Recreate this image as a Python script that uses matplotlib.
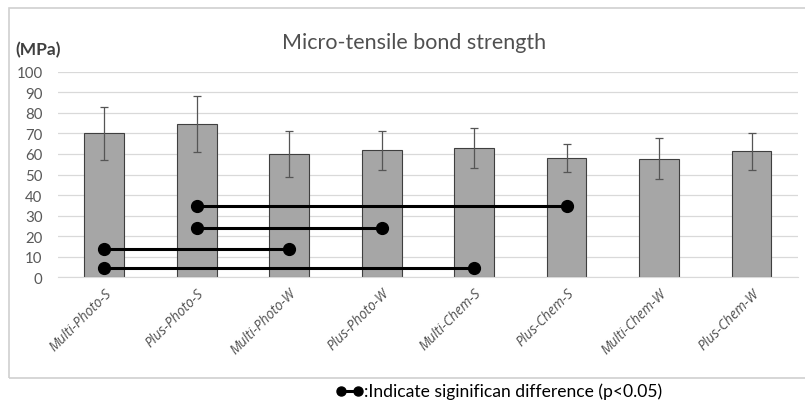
import matplotlib.pyplot as plt
from matplotlib.patches import Rectangle
from matplotlib.lines import Line2D

plt.rcParams['font.family'] = ['Lato', 'DejaVu Sans']

groups = ["Multi-Photo-S", "Plus-Photo-S", "Multi-Photo-W", "Plus-Photo-W",
          "Multi-Chem-S", "Plus-Chem-S", "Multi-Chem-W", "Plus-Chem-W"]
means = [70.0, 74.6, 60.0, 61.8, 62.9, 58.2, 57.7, 61.3]
sds = [13.0, 13.7, 11.0, 9.4, 9.6, 6.8, 10.0, 9.0]

# significant pairs (index a, index b, height of the connector)
sig_from = [1, 1, 0, 0]
sig_to = [5, 3, 2, 4]
sig_level = [34.5, 24.2, 13.9, 4.4]

fig = plt.figure(figsize=(8.05, 4.06), dpi=100)
ax = fig.add_axes([0.072, 0.3145, 0.919, 0.5064])

x = list(range(len(groups)))
ax.bar(x, means, width=0.43, color='#a6a6a6', edgecolor='#3f3f3f', linewidth=0.8, zorder=2)
ax.errorbar(x, means, yerr=sds, fmt='none', ecolor='#555555', elinewidth=0.9,
            capsize=3, capthick=0.9, zorder=3)

for a, b, lv in zip(sig_from, sig_to, sig_level):
    ax.plot([a, b], [lv, lv], color='black', linewidth=2.2, marker='o',
            markersize=8.5, zorder=4)

ax.set_xlim(-0.5, len(groups) - 0.5)
ax.set_ylim(0, 100)
ax.set_yticks(range(0, 101, 10))
ax.yaxis.grid(True, color='#d9d9d9', linewidth=0.9, zorder=0)
ax.set_axisbelow(True)
for s in ['top', 'right', 'left']:
    ax.spines[s].set_visible(False)
ax.spines['bottom'].set_color('#d9d9d9')
ax.tick_params(axis='both', length=0, colors='#595959', labelsize=10.8)
ax.tick_params(axis='y', pad=11)
ax.tick_params(axis='x', pad=6)
ax.set_xticks(x)
ax.set_xticklabels(groups, rotation=45, ha='right', rotation_mode='anchor',
                   fontstyle='italic', fontsize=9.8, color='#505050',
                   family=['Open Sans', 'DejaVu Sans'])

fig.text(0.514, 0.893, "Micro-tensile bond strength", ha='center', va='center',
         fontsize=15.5, color='#505050')
fig.text(0.019, 0.877, "(MPa)", ha='left', va='center', fontsize=12.5,
         fontweight='bold', color='#404040')

# outer chart frame
fig.patches.append(Rectangle((0.011, 0.066), 1.0, 0.911, transform=fig.transFigure,
                             fill=False, edgecolor='#d0d0d0', linewidth=1.2))

# legend note below frame
fig.add_artist(Line2D([0.424, 0.445], [0.035, 0.035], color='black', linewidth=2.2,
                      marker='o', markersize=6.5, transform=fig.transFigure))
fig.text(0.452, 0.035, ":Indicate siginifican difference (p<0.05)", ha='left',
         va='center', fontsize=12.6, color='black')

fig.savefig('out.png', dpi=100)
